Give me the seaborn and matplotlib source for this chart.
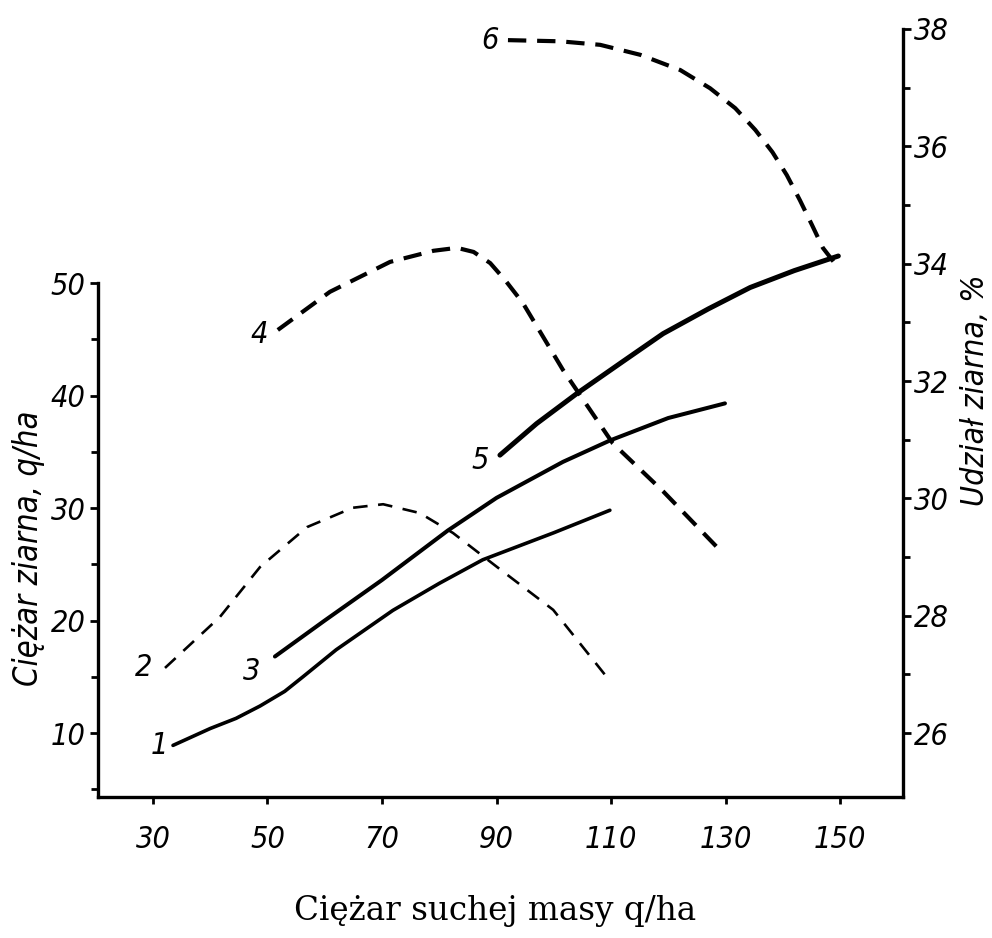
import numpy as np
import pandas as pd
import matplotlib
matplotlib.use("Agg")
import matplotlib.pyplot as plt
import seaborn as sns

# Grain weight, q/ha (left axis) against dry-matter weight, q/ha
x1 = [33.5, 40, 44.5, 48.7, 53, 56.2, 62, 71.9, 80, 87.6, 100, 109.8]
y1 = [8.9, 10.4, 11.3, 12.4, 13.7, 15.0, 17.4, 20.9, 23.3, 25.4, 27.8, 29.8]

x3 = [51.3, 60, 70, 81.5, 90, 101.6, 109.8, 120, 129.9]
y3 = [16.8, 20.0, 23.6, 28.0, 30.9, 34.1, 36.0, 38.0, 39.3]

x5 = [90.6, 97, 104.1, 112, 119.1, 127, 134.3, 142, 149.7]
y5 = [34.7, 37.5, 40.2, 43.0, 45.5, 47.7, 49.6, 51.1, 52.4]

# Grain share, % (right axis)
x2 = [32.1, 41.7, 48.7, 56.9, 64.9, 70.2, 76.6, 82.4, 90.1, 99.9, 109.3]
v2 = [27.11, 27.98, 28.83, 29.51, 29.84, 29.90, 29.75, 29.41, 28.83, 28.10, 26.95]

x4 = [51.8, 60.9, 71.4, 79.0, 83.1, 86.0, 88.9, 91.5, 94.6, 101.6, 110.3, 119.1, 128.5]
v4 = [32.87, 33.52, 34.03, 34.22, 34.27, 34.20, 34.01, 33.72, 33.33, 32.19, 30.94, 30.12, 29.17]

x6 = [92.0, 101.1, 108.1, 115.1, 122.1, 127.3, 131.7, 135.2, 138.2, 140.7, 143.0,
      145.1, 147.0, 148.9]
v6 = [37.81, 37.79, 37.73, 37.56, 37.30, 36.99, 36.65, 36.28, 35.90, 35.51, 35.08,
      34.66, 34.27, 34.03]

x_ticks = [30, 50, 70, 90, 110, 130, 150]
left_ticks = [10, 20, 30, 40, 50]
left_minor = [5, 15, 25, 35, 45]
right_ticks = [26, 28, 30, 32, 34, 36, 38]
right_minor = [27, 29, 31, 33, 35, 37]

sns.set_theme(style="ticks")
plt.rcParams["font.family"] = ["DejaVu Sans"]
plt.rcParams["font.stretch"] = "condensed"
for key in ("text.color", "axes.labelcolor", "xtick.color", "ytick.color",
            "axes.edgecolor"):
    plt.rcParams[key] = "black"
plt.rcParams["axes.facecolor"] = "white"
plt.rcParams["figure.facecolor"] = "white"

fig = plt.figure(figsize=(9.92, 9.38), dpi=100)
ax = fig.add_axes([0.0988, 0.1503, 0.8115, 0.8188])
ax2 = ax.twinx()

solid = [(x1, y1, "1", 2.6), (x3, y3, "3", 2.9), (x5, y5, "5", 3.6)]
dashed = [(x2, v2, "2", 1.9, (5.5, 4.0)), (x4, v4, "4", 3.0, (4.4, 2.6)),
          (x6, v6, "6", 3.0, (4.4, 2.6))]

for xs, ys, name, lw in solid:
    df = pd.DataFrame({"x": xs, "y": ys})
    sns.lineplot(data=df, x="x", y="y", ax=ax, color="black", lw=lw,
                 sort=False, estimator=None, solid_capstyle="round",
                 solid_joinstyle="round")

for xs, ys, name, lw, dash in dashed:
    df = pd.DataFrame({"x": xs, "y": ys})
    line = sns.lineplot(data=df, x="x", y="y", ax=ax2, color="black", lw=lw,
                        sort=False, estimator=None)
    line.lines[-1].set_dashes(dash)
    line.lines[-1].set_dash_joinstyle("round")

ax.set_xlim(20.4, 161.0)
ax.set_ylim(4.31, 72.58)
ax2.set_ylim(24.91, 38.0)

# curve numbers beside the first point of each curve
label_font = dict(fontsize=22, style="italic", stretch="condensed", color="black",
                  ha="center", va="center")
offsets = {"1": (-14, 0), "2": (-21, 0), "3": (-23, -15), "4": (-19, -5),
           "5": (-20, -5), "6": (-18, 0)}
for xs, ys, name, lw in solid:
    ax.annotate(name, xy=(xs[0], ys[0]), xytext=offsets[name],
                textcoords="offset pixels", **label_font)
for xs, ys, name, lw, dash in dashed:
    ax2.annotate(name, xy=(xs[0], ys[0]), xytext=offsets[name],
                 textcoords="offset pixels", **label_font)

# spines
for a in (ax, ax2):
    a.spines["top"].set_visible(False)
    for s in a.spines.values():
        s.set_linewidth(2.4)
        s.set_color("black")
ax.spines["right"].set_visible(False)
ax2.spines["left"].set_visible(False)
ax2.spines["bottom"].set_visible(False)
ax.spines["left"].set_bounds(4.31, 50)
ax2.spines["right"].set_bounds(24.91, 38)

tick_font = dict(fontsize=22, style="italic", stretch="condensed")
ax.set_xticks(x_ticks)
ax.set_xticklabels([str(t) for t in x_ticks], **tick_font)
ax.set_yticks(left_ticks)
ax.set_yticklabels([str(t) for t in left_ticks], **tick_font)
ax.set_yticks(left_minor, minor=True)
ax2.set_yticks(right_ticks)
ax2.set_yticklabels([str(t) for t in right_ticks], **tick_font)
ax2.set_yticks(right_minor, minor=True)

ax.tick_params(axis="x", direction="out", length=5, width=2, pad=15)
ax.tick_params(axis="y", which="major", direction="out", length=6, width=2, pad=3)
ax.tick_params(axis="y", which="minor", direction="out", length=5, width=2)
ax2.tick_params(axis="y", which="major", direction="out", length=6, width=2, pad=2)
ax2.tick_params(axis="y", which="minor", direction="out", length=5, width=2)

ax.set_xlabel("Ciężar suchej masy q/ha", family=["DejaVu Serif"], stretch="normal",
              fontsize=23.5)
ax.xaxis.set_label_coords(0.493, -0.128)
ax.set_ylabel("Ciężar ziarna, q/ha", fontsize=23.5, style="italic", stretch="condensed")
ax.yaxis.set_label_coords(-0.066, 0.324)
ax2.set_ylabel("Udział ziarna, %", fontsize=23, style="italic", stretch="condensed")
ax2.yaxis.set_label_coords(1.071, 0.530)

fig.savefig("out.png", dpi=100, facecolor="white")
